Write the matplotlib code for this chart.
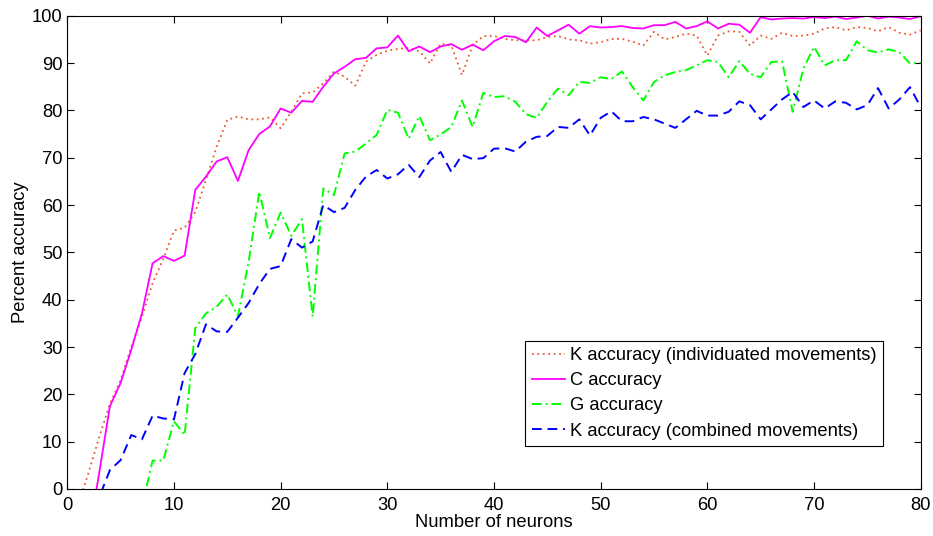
import matplotlib
matplotlib.use('Agg')
import matplotlib.pyplot as plt
import numpy as np

plt.rcParams['font.family'] = ['Liberation Sans', 'DejaVu Sans']
plt.rcParams['font.size'] = 13.2

# 神经元数量 1..80
neurons = np.arange(1, 81)

# 各解码器的准确率 (%)
k_indiv = [-3.5, 3.5, 11, 18, 23, 30, 36.4, 43.5, 48.6, 54.6,
           55.2, 58.5, 65.3, 72.3, 78, 78.7, 78.1, 78.1, 78.5, 76.2,
           79.7, 83.6, 83.8, 85.7, 88.2, 87.1, 85.2, 90.3, 91.7, 92.6,
           93, 93.2, 92.5, 89.9, 94.1, 93.7, 87.5, 93.7, 95.7, 95.7,
           95.1, 94.8, 94.8, 94.8, 95.5, 95.7, 95, 94.8, 94.1, 94.4,
           95.1, 95.1, 94.5, 93.7, 96.6, 95, 95.5, 96.2, 95.8, 91.6,
           95.8, 96.7, 96.6, 93.7, 95.8, 95.1, 96.4, 95.7, 95.8, 96.2,
           97.3, 97.6, 96.9, 97.6, 97.4, 96.7, 97.6, 96.4, 96, 96.9]

c_acc = [-25, -10, 3.5, 17.5, 22.4, 29.4, 37.1, 47.7, 49.2, 48.2,
         49.3, 63.2, 66, 69.2, 70.1, 65.1, 71.6, 75, 76.6, 80.4,
         79.5, 82, 81.8, 85, 87.8, 89.2, 90.8, 91.1, 93.1, 93.3,
         95.8, 92.5, 93.5, 92.3, 93.5, 94, 92.8, 93.9, 92.7, 94.6,
         95.7, 95.5, 94.4, 97.5, 95.7, 96.9, 98.1, 96.2, 97.8, 97.5,
         97.6, 97.8, 97.4, 97.3, 98, 98, 98.7, 97.3, 97.8, 98.8,
         97.3, 98.3, 98.1, 96.4, 99.7, 99.2, 99.4, 99.5, 99.4, 99.7,
         99.5, 99.8, 99.3, 99.6, 100, 99.4, 99.8, 99.6, 99.3, 99.9]

g_acc = [-30, -25, -20, -15, -10, -7, -3.7, 6, 6, 14.3,
         11.4, 34, 37.1, 38.5, 41.1, 36.5, 48, 62.8, 53, 58.4,
         53.5, 57, 36.4, 63.5, 62.1, 70.9, 71.3, 73, 74.8, 80.1,
         79.5, 74, 78.8, 73.7, 74.9, 76.5, 82.1, 76.5, 83.7, 82.8,
         83, 81.8, 79.2, 78.4, 81.8, 84.6, 83.2, 86, 85.8, 87,
         86.6, 88.2, 84.9, 82.1, 86, 87.4, 88.1, 88.5, 89.5, 90.6,
         90.2, 87, 90.4, 87.7, 87, 90.2, 90.4, 79.7, 88.8, 93.4,
         89.5, 90.6, 90.6, 94.6, 92.7, 92.2, 92.9, 92.3, 89.9, 90.1]

k_comb = [-15, -8, -1.7, 4, 6.1, 11.4, 10.5, 15.5, 14.9, 14.7,
          24.5, 28.5, 34.8, 33.3, 33.2, 36.2, 39.3, 43.3, 46.5, 47.1,
          52.8, 51, 52.3, 60, 58.5, 59.4, 63.2, 66, 67.4, 65.6,
          66.5, 68.5, 65.9, 69.4, 71.2, 67, 70.6, 69.7, 69.9, 71.9,
          72, 71.3, 73.4, 74.4, 74.6, 76.5, 76.3, 78.1, 74.7, 78.4,
          79.8, 77.7, 77.7, 78.6, 78.1, 77.2, 76.3, 78.1, 79.9, 78.9,
          78.9, 79.7, 81.9, 81.1, 78.1, 80.2, 82.3, 83.9, 80.7, 82.1,
          80.4, 81.9, 81.6, 80.2, 81.1, 84.7, 80.4, 82.3, 84.9, 80.7]

fig = plt.figure(figsize=(9.33, 5.36), dpi=100)
ax = fig.add_axes([0.0721, 0.0877, 0.9147, 0.883])

ax.plot(neurons, k_indiv, color='#ec5a34', lw=1.3, linestyle=(0, (1, 2)),
        label='K accuracy (individuated movements)')
ax.plot(neurons, c_acc, color='#ff00ff', lw=1.3, label='C accuracy')
ax.plot(neurons, g_acc, color='#00ff00', lw=1.4, linestyle=(0, (5, 2, 1, 2)),
        label='G accuracy')
ax.plot(neurons, k_comb, color='#0000ff', lw=1.4, linestyle=(0, (5, 3)),
        label='K accuracy (combined movements)')

ax.set_xlim(0, 80)
ax.set_ylim(0, 100)
ax.set_xticks(range(0, 81, 10))
ax.set_yticks(range(0, 101, 10))
ax.tick_params(direction='in', top=True, right=True, length=5, width=0.8)
ax.tick_params(axis='x', pad=6)
for s in ax.spines.values():
    s.set_linewidth(0.8)

ax.set_xlabel('Number of neurons', labelpad=0)
ax.set_ylabel('Percent accuracy', labelpad=2)

leg = ax.legend(loc='lower right', bbox_to_anchor=(0.956, 0.0909),
                frameon=True, fancybox=False, framealpha=1, edgecolor='black',
                handlelength=1.8, handletextpad=0.3, labelspacing=0.44,
                borderpad=0.35, borderaxespad=0)
leg.get_frame().set_linewidth(0.8)

fig.savefig('out.png', dpi=100)
